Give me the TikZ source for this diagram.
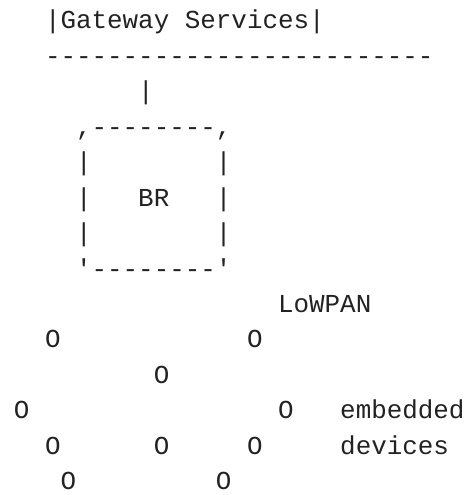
\documentclass[tikz,border=0pt]{standalone}
\usepackage{fontspec}
\newfontfamily\asciifont{Liberation Mono}
\usepackage{tikz}
\usetikzlibrary{positioning}
\definecolor{ink}{HTML}{222222}

\begin{document}
\begin{tikzpicture}[x=15.6pt, y=35.6pt,
    every char/.style={font=\asciifont\fontsize{26pt}{30pt}\selectfont,
        text=ink, anchor=base west, inner sep=0pt, outer sep=0pt}]

            \useasboundingbox (-14pt,29pt) rectangle (455pt,-468pt);

            % gateway and bus
            \node [every char] (gateway) at (2,0) {|Gateway Services|};
            \node [every char] (bus) at (2,-1) {-------------------------};

            % link down to the border router
            \node [every char] (link) at (8,-2) {|};

            % border router box
            \node [every char] (br-top) at (4,-3) {,--------,};
            \foreach \r [count=\i] in {4,5,6}
            {
                \node [every char] (br-left-\i) at (4,-\r) {|};
                \node [every char] (br-right-\i) at (13,-\r) {|};
            }
            \node [every char] (br) at (8,-5) {BR};
            \node [every char] (br-bottom) at (4,-7) {'--------'};

            % network label
            \node [every char] (lowpan) at (17,-8) {LoWPAN};

            % embedded devices
            \foreach \c/\r [count=\i] in {2/9,15/9,9/10,0/11,17/11,2/12,9/12,15/12,3/13,13/13}
                \node [every char] (device-\i) at (\c,-\r) {O};

            % device labels
            \node [every char] (embedded) at (21,-11) {embedded};
            \node [every char] (devices) at (21,-12) {devices};

\end{tikzpicture}
\end{document}
